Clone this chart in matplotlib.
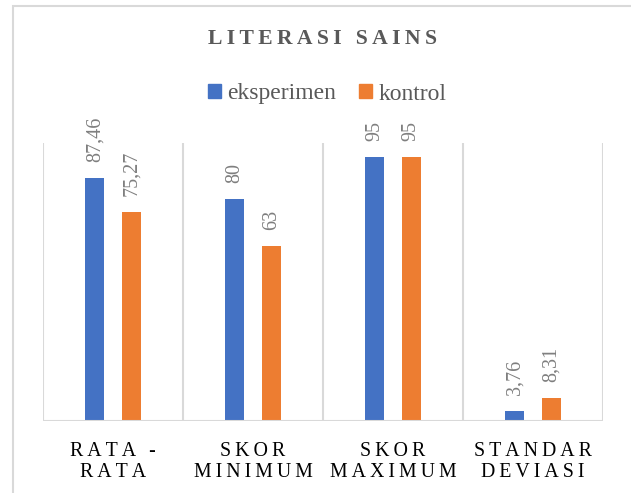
# -*- coding: utf-8 -*-

# grafik batang literasi sains, eksperimen vs kontrol

import numpy as np
import matplotlib
matplotlib.use("Agg")
import matplotlib.pyplot as plt
from matplotlib.patches import Rectangle, Patch

categories = ["RATA -\nRATA", "SKOR\nMINIMUM", "SKOR\nMAXIMUM", "STANDAR\nDEVIASI"]
eksperimen = [87.46, 80, 95, 3.76]
kontrol = [75.27, 63, 95, 8.31]
series_names = ["eksperimen", "kontrol"]

BLUE = "#4472C4"
ORANGE = "#ED7D31"
GRID = "#D9D9D9"
TEXT = "#595959"

plt.rcParams["font.family"] = ["Liberation Serif", "DejaVu Serif"]

W, H = 631, 493


def spaced(s):
    # jarak antar huruf ala Excel
    return "\n".join("\u2009".join(list(line)) for line in s.split("\n"))


def fmt(v):
    s = ("%.2f" % v).rstrip("0").rstrip(".")
    return s.replace(".", ",")


fig = plt.figure(figsize=(W / 100, H / 100), dpi=100)

# bingkai chart (terpotong di kanan dan bawah)
fig.add_artist(Rectangle((13 / W, -0.2), 1.5, 1.2 - 6 / H, transform=fig.transFigure,
                         fill=False, edgecolor=GRID, linewidth=1.5))

ax = fig.add_axes([43 / W, 1 - 421 / H, (603 - 43) / W, (421 - 143) / H])

x = np.arange(len(categories))
bw = 0.135
off = 0.13
b1 = ax.bar(x - off, eksperimen, bw, color=BLUE, zorder=3)
b2 = ax.bar(x + off, kontrol, bw, color=ORANGE, zorder=3)

for bars, vals in [(b1, eksperimen), (b2, kontrol)]:
    for r, v in zip(bars, vals):
        ax.annotate(fmt(v), (r.get_x() + r.get_width() / 2, r.get_height()),
                    xytext=(0, 11.5), textcoords="offset points",
                    rotation=90, ha="center", va="bottom",
                    fontsize=14.5, color="#7F7F7F")

ax.set_xlim(-0.5, len(categories) - 0.5)
ax.set_ylim(0, 100)
ax.set_yticks([])
for xb in np.arange(-0.5, len(categories), 1.0):
    ax.axvline(xb, color=GRID, linewidth=1.5, zorder=1)
for s in ax.spines.values():
    s.set_visible(False)
ax.axhline(0, color=GRID, linewidth=1.5, zorder=4)

ax.set_xticks(x)
ax.set_xticklabels([spaced(c) for c in categories], fontsize=14.3,
                   color="black", linespacing=1.12, multialignment="center")
ax.tick_params(axis="x", length=0, pad=15)

fig.text(322 / W, 1 - 39 / H, spaced("LITERASI SAINS"), ha="center", va="center",
         fontsize=15.6, fontweight="bold", color=TEXT)

handles = [Patch(color=BLUE), Patch(color=ORANGE)]
fig.legend(handles, series_names, loc="center", ncol=2,
           bbox_to_anchor=(327 / W, 1 - 94 / H), frameon=False,
           fontsize=17, labelcolor=TEXT, handlelength=0.55, handleheight=0.55,
           handletextpad=0.25, columnspacing=1.0)

fig.savefig("out.png", dpi=100)
